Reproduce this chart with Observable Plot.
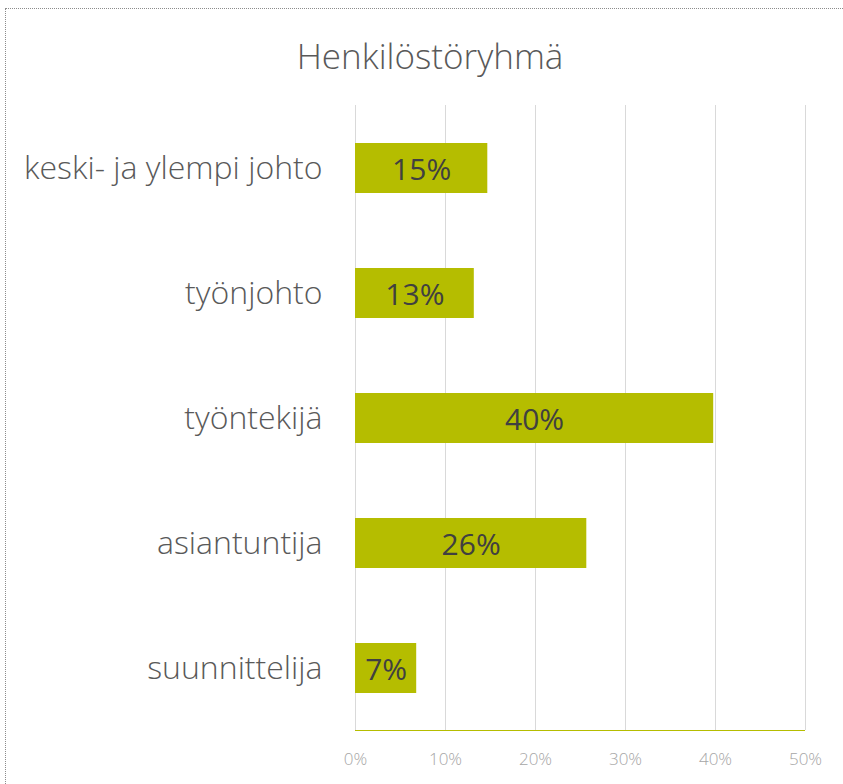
<!DOCTYPE html>
<html>
<head>
<meta charset="utf-8">
<script src="https://cdn.jsdelivr.net/npm/d3@7"></script>
<script src="https://cdn.jsdelivr.net/npm/@observablehq/plot@0.6"></script>
<style>
  html, body { margin: 0; padding: 0; background: #fff; }
  #wrap { position: relative; width: 843px; height: 784px; overflow: hidden; }
  #border { position: absolute; left: 5px; top: 8px; width: 900px; height: 900px; border: 1px dotted #8c8c8c; box-sizing: border-box; }
  #title { position: absolute; left: 0; top: 32px; width: 860px; text-align: center; font-family: "Open Sans", sans-serif; font-weight: 300; font-size: 35px; color: #595959; }
  #chart { position: absolute; left: 0; top: 0; }
</style>
</head>
<body>
<div id="wrap">
  <div id="border"></div>
  <div id="chart"></div>
  <div id="title">Henkilöstöryhmä</div>
</div>
<script>
const categories = ["keski- ja ylempi johto", "työnjohto", "työntekijä", "asiantuntija", "suunnittelija"];
const values = [14.7, 13.2, 39.8, 25.7, 6.8];
const labels = ["15%", "13%", "40%", "26%", "7%"];
const xTicks = [0, 10, 20, 30, 40, 50];

const data = categories.map((c, i) => ({category: c, value: values[i], label: labels[i]}));

const chart = Plot.plot({
  width: 843,
  height: 784,
  marginLeft: 355,
  marginRight: 38,
  marginTop: 105,
  marginBottom: 54,
  style: {fontFamily: "'Open Sans', sans-serif", background: "transparent"},
  x: {domain: [0, 50], ticks: xTicks, tickFormat: d => d + "%", label: null},
  y: {domain: categories, label: null, paddingInner: 0.6, paddingOuter: 0.3},
  marks: [
    Plot.ruleX(xTicks, {stroke: "#d9d9d9", strokeWidth: 1}),
    Plot.barX(data, {x: "value", y: "category", fill: "#b5bd00"}),
    Plot.frame({anchor: "bottom", stroke: "#b5bd00", strokeDasharray: "1,1"}),
    Plot.text(data, {x: d => d.value / 2, y: "category", text: "label", fill: "#404040", fontSize: 30, dy: 2}),
    Plot.axisX({ticks: xTicks, tickFormat: d => d + "%", tickSize: 0, tickPadding: 22, fontSize: 17, color: "#a6a6a6", fontWeight: 300, label: null}),
    Plot.axisY({tickSize: 0, tickPadding: 33, fontSize: 32, color: "#595959", fontWeight: 300, label: null})
  ]
});
document.getElementById("chart").appendChild(chart);
</script>
</body>
</html>
